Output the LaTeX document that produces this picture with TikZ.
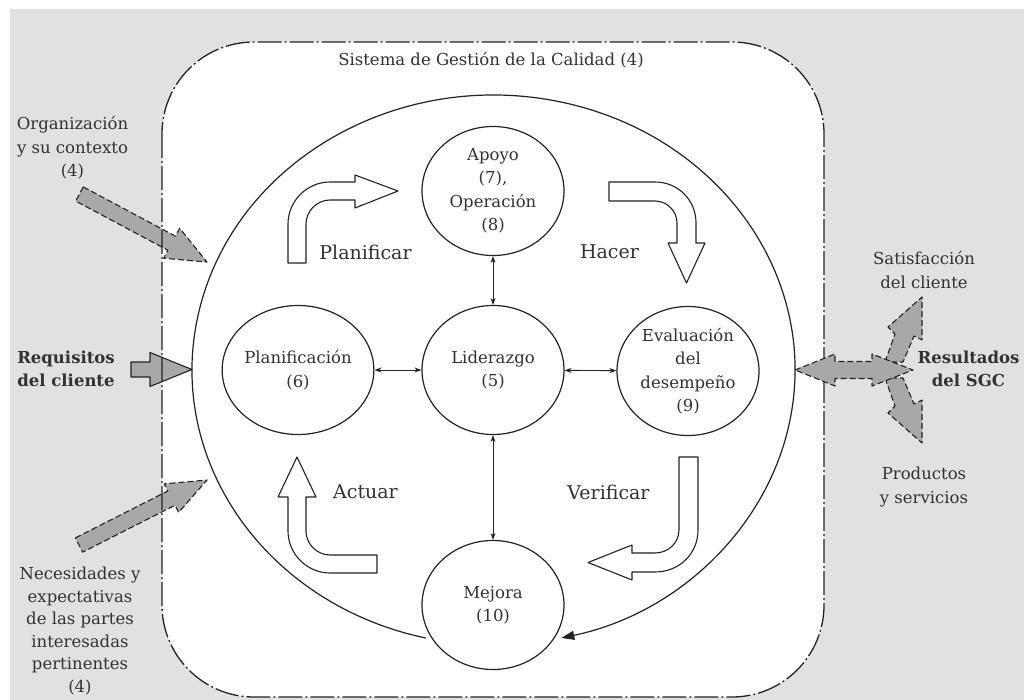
\documentclass[tikz,border=0pt]{standalone}
\usepackage{fontspec}
\setmainfont{DejaVu Serif}
\usetikzlibrary{shapes.geometric,arrows.meta}
\definecolor{bggray}{RGB}{225,225,227}
\definecolor{arrgray}{RGB}{168,168,170}
\definecolor{txt}{RGB}{50,50,50}
\definecolor{ink}{RGB}{35,35,35}
\newcommand\blockarrow[7]{%
  \path[#1, shift={#2}, rotate=#3] (0,-#5) -- ({#4-#7},-#5) -- ({#4-#7},-#6) -- (#4,0)
     -- ({#4-#7},#6) -- ({#4-#7},#5) -- (0,#5) -- cycle;}
\begin{document}
\begin{tikzpicture}[x=1pt,y=-1pt,line join=round,
  stage/.style={ellipse, draw=ink, line width=1.2pt, fill=white, minimum width=142pt,
     minimum height=129pt, inner sep=0pt, align=center, text=txt,
     font=\fontsize{16.5}{23.5}\selectfont},
  lbl/.style={align=center, text=txt, inner sep=0pt, font=\fontsize{16.5}{23.5}\selectfont},
  blbl/.style={lbl, font=\fontsize{16.5}{23.5}\selectfont\bfseries},
  flowlbl/.style={text=txt, inner sep=0pt, font=\fontsize{19}{23}\selectfont},
  flow/.style={draw=ink, line width=1.1pt, fill=white},
  garrow/.style={draw=ink, line width=1.1pt, fill=arrgray, dash pattern=on 6pt off 3pt},
  sarrow/.style={draw=ink, line width=1.1pt, fill=arrgray},
  link/.style={draw=ink, line width=0.9pt, {Stealth[length=7pt,width=5pt]}-{Stealth[length=7pt,width=5pt]}},
  sgc/.style={draw=ink, line width=1.3pt, dash pattern=on 24pt off 3pt on 2pt off 3pt}
]
\useasboundingbox (0,0) rectangle (1024,700);
\fill[bggray] (10,9) rectangle (1024,700);
\fill[white, rounded corners=92pt] (162,42) rectangle (824,697);

% input arrows (left)
\blockarrow{garrow}{(79.5,194)}{-28.1}{144.5}{8}{17}{40}
\blockarrow{garrow}{(79,545)}{26.9}{143.6}{8}{16}{40}
\blockarrow{sarrow}{(131,369.5)}{0}{61}{7.5}{17}{42}

% system boundary
\draw[sgc, rounded corners=92pt] (162,42) rectangle (824,697);
\node[lbl] (title) at (491,60) {Sistema de Gestión de la Calidad (4)};

% big cycle
\coordinate (arcstart) at (425.7,638);
\draw[draw=ink, line width=1.2pt, -{Triangle[length=13pt,width=9pt]}]
  (arcstart) arc[start angle=103, end angle=437, x radius=301.5, y radius=275];

% stages
\node[stage] (apoyo) at (493,191) {Apoyo\\(7),\\Operación\\(8)};
\node[stage] (plan) at (298,370) {Planificación\\(6)};
\node[stage] (lid) at (493,370) {Liderazgo\\(5)};
\node[stage] (eval) at (688,371) {Evaluación\\del\\desempeño\\(9)};
\node[stage] (mejora) at (493,605) {Mejora\\(10)};

\draw[link] (plan) -- (lid);
\draw[link] (lid) -- (eval);
\draw[link] (apoyo) -- (lid);
\draw[link] (lid) -- (mejora);

% PDCA flow arrows
\path[flow] (288,263) -- (288,224) .. controls (288,201) and (307,182) .. (330,182)
  -- (355,182) -- (355,175) -- (398,191) -- (355,208) -- (355,200) -- (330,200)
  .. controls (317,200) and (306,211) .. (306,224) -- (306,263) -- cycle;
\path[flow] (609,182) -- (655,182) .. controls (678,182) and (696,200) .. (696,223)
  -- (696,243) -- (705,243) -- (686.5,283) -- (668,243) -- (677,243) -- (677,223)
  .. controls (677,211) and (667,201) .. (655,201) -- (609,201) -- cycle;
\path[flow] (679,457) -- (698,457) -- (698,530) .. controls (698,554) and (679,572) .. (655,572)
  -- (632,572) -- (632,580) -- (588,562.5) -- (632,545) -- (632,553) -- (655,553)
  .. controls (668,553) and (679,543) .. (679,530) -- cycle;
\path[flow] (377,555) -- (330,555) .. controls (317,555) and (306,544) .. (306,531)
  -- (306,497) -- (316,497) -- (297,457) -- (278,497) -- (288,497) -- (288,531)
  .. controls (288,554) and (307,573) .. (330,573) -- (377,573) -- cycle;

\node[flowlbl] (lplan) at (365.5,252) {Planificar};
\node[flowlbl] (lhacer) at (609.5,252) {Hacer};
\node[flowlbl] (lverif) at (608.5,492) {Verificar};
\node[flowlbl] (lact) at (365.5,492) {Actuar};

% output arrows (right)
\path[garrow] (885,362) -- (895,334) -- (888,327) -- (922,297) -- (922,340) -- (914,336) -- (903,362) -- cycle;
\path[garrow] (885,378) -- (895,406) -- (888,413) -- (922,443) -- (922,400) -- (914,404) -- (903,378) -- cycle;
\path[garrow] (795,370) -- (835,354) -- (835,361.5) -- (872,361.5) -- (872,354) -- (913,370)
  -- (872,386) -- (872,378.5) -- (835,378.5) -- (835,386) -- cycle;

% outside texts
\node[lbl] (org) at (72.5,148) {Organización\\y su contexto\\(4)};
\node[blbl] (req) at (66,369) {Requisitos\\del cliente};
\node[lbl, font=\fontsize{16.5}{22.6}\selectfont] (nec) at (80,631) {Necesidades y\\expectativas\\de las partes\\interesadas\\pertinentes\\(4)};
\node[lbl] (sat) at (924,270) {Satisfacción\\del cliente};
\node[blbl] (res) at (968.5,369) {Resultados\\del SGC};
\node[lbl] (prod) at (924,487) {Productos\\y servicios};
\end{tikzpicture}
\end{document}
